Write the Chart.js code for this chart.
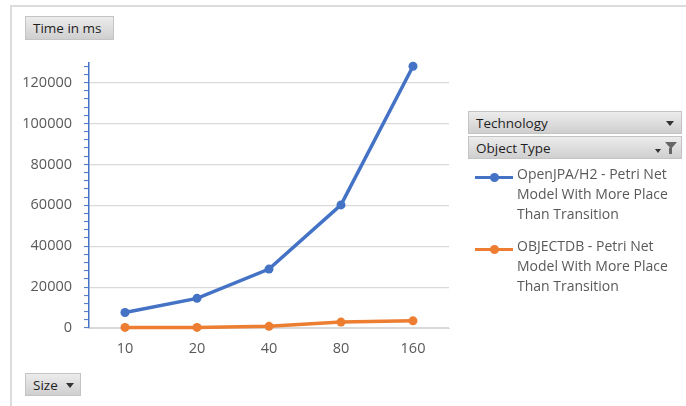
<!DOCTYPE html>
<html>
<head>
<meta charset="utf-8">
<script src="https://cdn.jsdelivr.net/npm/chart.js@4/dist/chart.umd.min.js"></script>
<style>
  html,body{margin:0;padding:0;background:#fff;}
  #wrap{position:relative;width:686px;height:406px;overflow:hidden;font-family:"Open Sans",sans-serif;}
  #frame{position:absolute;left:10px;top:5px;width:680px;height:410px;border-top:2px solid #dcdcdc;border-left:2px solid #dcdcdc;}
  #cv{position:absolute;left:0;top:0;}
  .btn{position:absolute;background:linear-gradient(#ececec,#cfcfcf);border:1px solid #c4c4c4;color:#1f1f1f;font-size:13.5px;line-height:22px;box-sizing:border-box;padding-left:7px;white-space:nowrap;}
  .arrow{position:absolute;top:9px;width:0;height:0;border-left:4px solid transparent;border-right:4px solid transparent;border-top:5px solid #333;}
  .legend-item{position:absolute;left:475px;width:210px;}
  .legend-item .sample{position:absolute;left:0;top:8px;width:38px;height:3px;}
  .legend-item .dot{position:absolute;left:15px;top:5px;width:9px;height:9px;border-radius:50%;}
  .legend-item .txt{position:absolute;left:42px;top:-4px;font-size:14px;line-height:20px;color:#595959;width:168px;}
  .funnel{position:absolute;right:4px;top:5px;width:0;height:0;border-left:6px solid transparent;border-right:6px solid transparent;border-top:7px solid #666;}
  .funnel2{position:absolute;right:9px;top:11px;width:3px;height:6px;background:#666;}
</style>
</head>
<body>
<div id="wrap">
  <div id="frame"></div>
  <canvas id="cv" width="686" height="406"></canvas>
  <div class="btn" style="left:25px;top:16px;width:89px;height:24px;">Time in ms</div>
  <div class="btn" style="left:25px;top:373px;width:56px;height:23px;">Size<span class="arrow" style="left:40px;"></span></div>
  <div class="btn" style="left:468px;top:111px;width:214px;height:23px;">Technology<span class="arrow" style="left:197px;"></span></div>
  <div class="btn" style="left:468px;top:136px;width:214px;height:23px;">Object Type<span class="arrow" style="left:186px;top:12px;border-left-width:3px;border-right-width:3px;border-top-width:4px;"></span><span class="funnel"></span><span class="funnel2"></span></div>
  <div id="legend"></div>
</div>
<script>
const categories = ["10", "20", "40", "80", "160"];
const seriesNames = [
  "OpenJPA/H2 - Petri Net Model With More Place Than Transition",
  "OBJECTDB - Petri Net Model With More Place Than Transition"
];
const openjpaValues = [7600, 14500, 28800, 60200, 128000];
const objectdbValues = [300, 300, 800, 2900, 3500];
const yMajorTicks = [0, 20000, 40000, 60000, 80000, 100000, 120000];
const colors = ["#4472C4", "#ED7D31"];

const datasets = [openjpaValues, objectdbValues].map((vals, i) => ({
  label: seriesNames[i],
  data: vals,
  borderColor: colors[i],
  backgroundColor: colors[i],
  borderWidth: 3.5,
  pointRadius: 4.5,
  pointHoverRadius: 4.5,
  pointBorderWidth: 0,
  tension: 0,
  fill: false,
  clip: false
}));

new Chart(document.getElementById('cv'), {
  type: 'line',
  data: { labels: categories, datasets },
  options: {
    responsive: false,
    animation: false,
    events: [],
    layout: { padding: { left: 0, right: 237, top: 63, bottom: 0 } },
    plugins: { legend: { display: false }, tooltip: { enabled: false } },
    scales: {
      x: {
        offset: true,
        grid: { display: false, drawTicks: false },
        border: { display: true, color: '#d9d9d9', width: 1 },
        ticks: { color: '#595959', font: { family: 'Open Sans', size: 14.5 }, padding: 12 },
        afterFit: s => { s.height = 78; }
      },
      y: {
        min: 0,
        max: 129600,
        afterBuildTicks: s => {
          const t = [];
          for (let v = 0; v <= 128000; v += 4000) t.push({ value: v });
          s.ticks = t;
        },
        grid: {
          color: c => (yMajorTicks.includes(c.tick.value) ? '#d9d9d9' : 'rgba(0,0,0,0)'),
          tickColor: '#4472C4',
          tickLength: 5,
          lineWidth: 1.2,
          tickWidth: 1
        },
        border: { display: true, color: '#4472C4', width: 1.5 },
        ticks: {
          color: '#595959',
          font: { family: 'Open Sans', size: 14.5 },
          padding: 12,
          autoSkip: false,
          callback: v => (yMajorTicks.includes(v) ? String(v) : '')
        },
        afterFit: s => { s.width = 89; }
      }
    }
  }
});

const legend = document.getElementById('legend');
const tops = [168, 240];
seriesNames.forEach((name, i) => {
  const d = document.createElement('div');
  d.className = 'legend-item';
  d.style.top = tops[i] + 'px';
  d.innerHTML = '<div class="sample" style="background:' + colors[i] + '"></div><div class="dot" style="background:' + colors[i] + '"></div><div class="txt">' + name + '</div>';
  legend.appendChild(d);
});
</script>
</body>
</html>
